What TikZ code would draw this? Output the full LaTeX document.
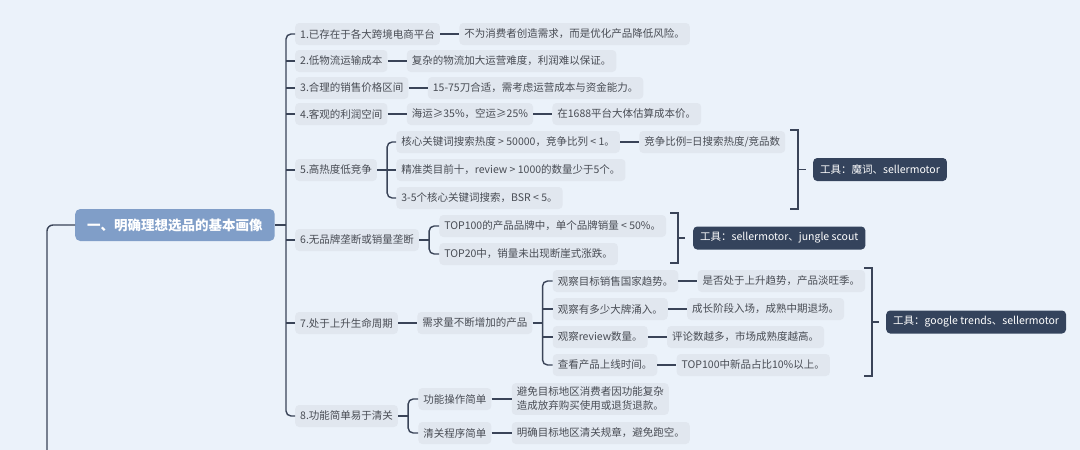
\documentclass[tikz,border=0pt]{standalone}
\usepackage{fontspec}
\setmainfont{Noto Sans CJK SC}
\usetikzlibrary{positioning,calc}

\definecolor{bgblue}{RGB}{235,242,250}
\definecolor{boxgray}{RGB}{225,231,239}
\definecolor{rootblue}{RGB}{128,158,200}
\definecolor{toolnavy}{RGB}{52,67,92}
\definecolor{linkgray}{RGB}{58,68,88}
\definecolor{txtgray}{RGB}{72,76,84}

\tikzset{
  bub/.style={fill=boxgray,text=txtgray,rounded corners=4pt,anchor=west,
    minimum height=22pt,inner xsep=5pt,inner ysep=3pt,
    font=\fontsize{10.5}{14}\selectfont},
  rootbox/.style={fill=rootblue,text=white,rounded corners=5pt,anchor=west,
    minimum height=32pt,inner xsep=12pt,font=\fontsize{13.5}{16}\selectfont\bfseries},
  tool/.style={fill=toolnavy,text=white,rounded corners=4pt,anchor=west,
    minimum height=23pt,inner xsep=7pt,font=\fontsize{10.5}{14}\selectfont},
  link/.style={draw=linkgray,line width=1.4pt}
}

\begin{document}
\begin{tikzpicture}[x=1pt,y=-1pt]
  \fill[bgblue] (0,0) rectangle (1080,450);
  \useasboundingbox (0,0) rectangle (1080,450);

  \node[rootbox] (root) at (75,225) {一、明确理想选品的基本画像};
  \coordinate (hub) at (286,225);
  \coordinate (trunk) at (47,460);

  % first level
  \node[bub] (i1) at (295,34) {1.已存在于各大跨境电商平台};
  \node[bub,right=19pt of i1] (i1a) {不为消费者创造需求，而是优化产品降低风险。};
  \node[bub] (i2) at (295,61) {2.低物流运输成本};
  \node[bub,right=19pt of i2] (i2a) {复杂的物流加大运营难度，利润难以保证。};
  \node[bub] (i3) at (295,88) {3.合理的销售价格区间};
  \node[bub,right=19pt of i3] (i3a) {15-75刀合适，需考虑运营成本与资金能力。};
  \node[bub] (i4) at (295,114) {4.客观的利润空间};
  \node[bub,right=19pt of i4] (i4a) {海运≥35\%，空运≥25\%};
  \node[bub,right=19pt of i4a] (i4b) {在1688平台大体估算成本价。};

  \node[bub] (i5) at (295,170) {5.高热度低竞争};
  \node[bub,right=19pt of i5,yshift=28pt] (i5a) {核心关键词搜索热度 > 50000，竞争比列 < 1。};
  \node[bub,right=19pt of i5a] (i5x) {竞争比例=日搜索热度/竞品数};
  \node[bub,right=19pt of i5] (i5b) {精准类目前十，review > 1000的数量少于5个。};
  \node[bub,right=19pt of i5,yshift=-28pt] (i5c) {3-5个核心关键词搜索，BSR < 5。};

  \node[bub] (i6) at (295,240) {6.无品牌垄断或销量垄断};
  \node[bub,right=20pt of i6,yshift=14pt] (i6a) {TOP100的产品品牌中，单个品牌销量 < 50\%。};
  \node[bub,right=20pt of i6,yshift=-14pt] (i6b) {TOP20中，销量未出现断崖式涨跌。};

  \node[bub] (i7) at (295,323) {7.处于上升生命周期};
  \node[bub,right=19pt of i7] (i7n) {需求量不断增加的产品};
  \node[bub,right=20pt of i7n,yshift=42pt] (i7a) {观察目标销售国家趋势。};
  \node[bub,right=19pt of i7a] (i7ax) {是否处于上升趋势，产品淡旺季。};
  \node[bub,right=20pt of i7n,yshift=14pt] (i7b) {观察有多少大牌涌入。};
  \node[bub,right=19pt of i7b] (i7bx) {成长阶段入场，成熟中期退场。};
  \node[bub,right=20pt of i7n,yshift=-14pt] (i7c) {观察review数量。};
  \node[bub,right=19pt of i7c] (i7cx) {评论数越多，市场成熟度越高。};
  \node[bub,right=20pt of i7n,yshift=-42pt] (i7d) {查看产品上线时间。};
  \node[bub,right=19pt of i7d] (i7dx) {TOP100中新品占比10\%以上。};

  \node[bub] (i8) at (295,416) {8.功能简单易于清关};
  \node[bub,right=20pt of i8,yshift=17pt] (i8a) {功能操作简单};
  \node[bub,right=20pt of i8a,align=left,inner ysep=4pt] (i8ax) {避免目标地区消费者因功能复杂\\造成放弃购买使用或退货退款。};
  \node[bub,right=20pt of i8,yshift=-17pt] (i8b) {清关程序简单};
  \node[bub,right=20pt of i8b] (i8bx) {明确目标地区清关规章，避免跑空。};

  % tools
  \node[tool] (t5) at (813,169.5) {工具：魔词、sellermotor};
  \node[tool] (t6) at (693,238) {工具：sellermotor、jungle scout};
  \node[tool] (t7) at (886,322) {工具：google trends、sellermotor};

  % connectors
  \draw[link,rounded corners=6pt] (root.west) -| (trunk);
  \draw[link] (root.east) -- (hub);
  \draw[link,rounded corners=5pt] (i1.west) -| (hub) |- (i8.west);
  \foreach \k in {2,...,7}
    \draw[link] (i\k.west) -- (i\k.west -| hub);

  \draw[link] (i1) -- (i1a);
  \draw[link] (i2) -- (i2a);
  \draw[link] (i3) -- (i3a);
  \draw[link] (i4) -- (i4a);
  \draw[link] (i4a) -- (i4b);

  \draw[link] (i5) -- (i5b);
  \draw[link,rounded corners=5pt] (i5a.west) -| ($(i5.east)+(10pt,0)$) |- (i5c.west);
  \draw[link] (i5a) -- (i5x);

  \draw[link] (i6.east) -- ++(10pt,0);
  \draw[link,rounded corners=5pt] (i6a.west) -| ($(i6.east)+(10pt,0)$) |- (i6b.west);

  \draw[link] (i7) -- (i7n);
  \draw[link] (i7n.east) -- ++(10pt,0);
  \draw[link,rounded corners=5pt] (i7a.west) -| ($(i7n.east)+(10pt,0)$) |- (i7d.west);
  \draw[link] (i7b.west) -- ++(-10pt,0);
  \draw[link] (i7c.west) -- ++(-10pt,0);
  \foreach \c in {a,b,c,d}
    \draw[link] (i7\c) -- (i7\c x);

  \draw[link] (i8.east) -- ++(10pt,0);
  \draw[link,rounded corners=5pt] (i8a.west) -| ($(i8.east)+(10pt,0)$) |- (i8b.west);
  \draw[link] (i8a) -- (i8ax.west |- i8a);
  \draw[link] (i8b) -- (i8bx);

  % summary brackets
  \draw[link] (790,130) -- (798,130) -- (798,209) -- (790,209);
  \draw[link,shorten >=7pt] (798,169.5) -- (t5.west);
  \draw[link] (670,213) -- (678,213) -- (678,263) -- (670,263);
  \draw[link,shorten >=8pt] (678,238) -- (t6.west);
  \draw[link] (864,268) -- (872,268) -- (872,376) -- (864,376);
  \draw[link,shorten >=7pt] (872,322) -- (t7.west);
\end{tikzpicture}
\end{document}
